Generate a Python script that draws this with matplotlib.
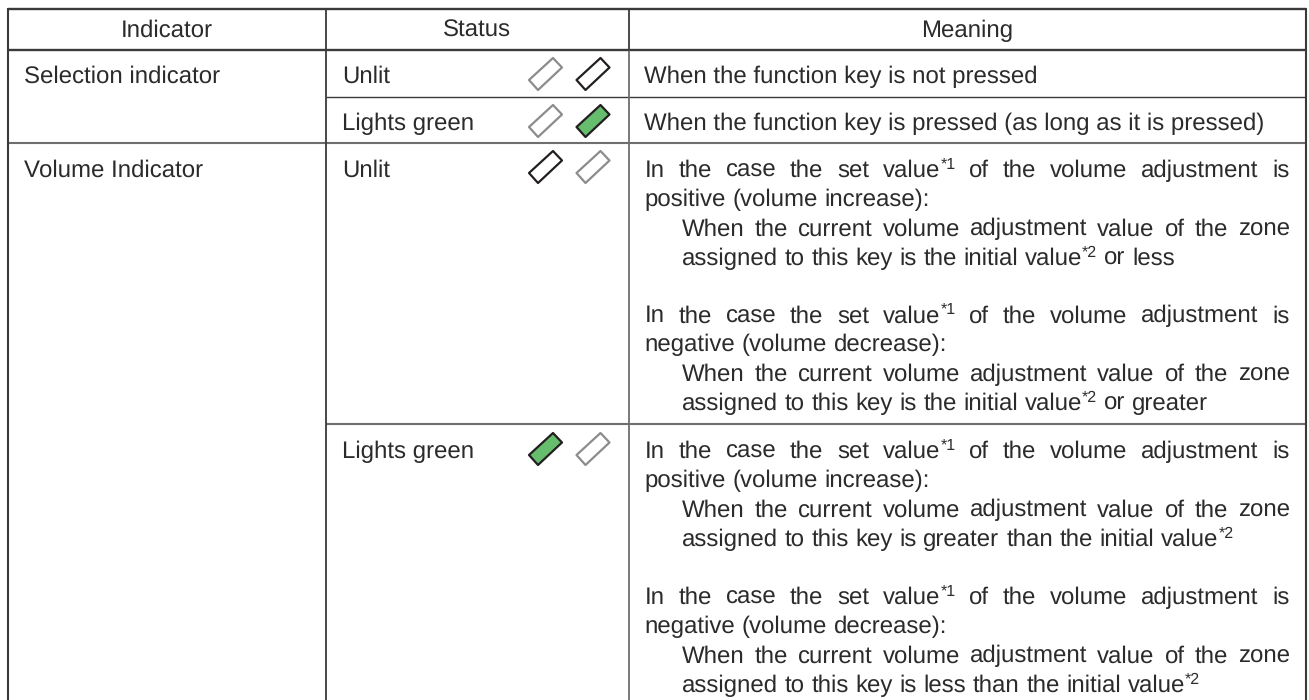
import re
import matplotlib as mpl
mpl.use("Agg")
import matplotlib.pyplot as plt
from matplotlib.patches import Polygon

plt.rcParams['font.family'] = ['Liberation Sans', 'DejaVu Sans']
plt.rcParams['text.hinting'] = 'none'
plt.rcParams['text.hinting_factor'] = 1

# table text
headers = ["Indicator", "Status", "Meaning"]
indicators = ["Selection indicator", "Volume Indicator"]
statuses = ["Unlit", "Lights green", "Unlit", "Lights green"]
simple_meanings = ["When the function key is not pressed",
                   "When the function key is pressed (as long as it is pressed)"]

# (text, indented, justified, baseline)
def block(sign, change, tail, start):
    return [
        ("In the case the set value*1 of the volume adjustment is", False, True, start),
        (f"{sign} (volume {change}):", False, False, start + 29),
        ("When the current volume adjustment value of the zone", True, True, start + 58.3),
        (tail, True, False, start + 87.6),
    ]

meaning_lines = (
    block("positive", "increase", "assigned to this key is the initial value*2 or less", 177)
    + block("negative", "decrease", "assigned to this key is the initial value*2 or greater", 322.5)
    + block("positive", "increase", "assigned to this key is greater than the initial value*2", 458)
    + block("negative", "decrease", "assigned to this key is less than the initial value*2", 604)
)

# table layout, pixels
col_edges = [8, 326, 628.5, 1306]
row_edges = [9, 50, 96.5, 143, 424, 705]
fs = 17.5
sup_fs = 11.5
txt_col = "#2b2b2b"
dark = "#3a3a3a"
mid = "#6e6e6e"

# indicator pairs: x centre, y centre, face, edge
left_x, right_x = 545.5, 593
lamps = [
    (left_x, 74, "none", "#8c8c8c"), (right_x, 74, "none", "#231f20"),
    (left_x, 121, "none", "#8c8c8c"), (right_x, 121, "#66bd6e", "#231f20"),
    (left_x, 167, "none", "#231f20"), (right_x, 167, "none", "#8c8c8c"),
    (left_x, 449, "#66bd6e", "#231f20"), (right_x, 449, "none", "#8c8c8c"),
]
lamp_shape = [(7.5, -16), (16.5, -6.5), (-7.5, 16), (-16.5, 6)]

fig = plt.figure(figsize=(13.09, 7), dpi=100)
ax = fig.add_axes([0, 0, 1, 1])
ax.set_xlim(0, 1309)
ax.set_ylim(700, 0)
ax.axis("off")
renderer = fig.canvas.get_renderer()


def text_w(s, size):
    t = ax.text(0, 0, s, fontsize=size)
    w = t.get_window_extent(renderer).width
    t.remove()
    return w


def hline(y, x0, x1, color=dark, lw=1.2):
    ax.plot([x0, x1], [y, y], color=color, lw=lw, solid_capstyle="butt")


def vline(x, y0, y1, color=dark, lw=1.2):
    ax.plot([x, x], [y0, y1], color=color, lw=lw, solid_capstyle="projecting")


def draw_line(s, x, y, right=None):
    # split words, superscripts get drawn smaller and raised
    words = s.split(" ")
    space = text_w("a a", fs) - text_w("aa", fs)
    pieces = []
    for w in words:
        m = re.match(r"(.*?)(\*\d)(.*)$", w)
        if m:
            pieces.append([(m.group(1), False), (m.group(2), True)])
        else:
            pieces.append([(w, False)])
    widths = [sum(text_w(p, sup_fs if sup else fs) for p, sup in pc) for pc in pieces]
    if right is not None:
        space = (right - x - sum(widths)) / (len(words) - 1)
    cx = x
    for pc, w in zip(pieces, widths):
        px = cx
        for p, sup in pc:
            ax.text(px, y - 8 if sup else y, p, fontsize=sup_fs if sup else fs,
                    color=txt_col, va="baseline", ha="left")
            px += text_w(p, sup_fs if sup else fs)
        cx += w + space


# grid
hline(row_edges[0], col_edges[0], col_edges[3], lw=1.7)
hline(row_edges[1], col_edges[0], col_edges[3], lw=1.7)
hline(row_edges[2], col_edges[1], col_edges[3], lw=1.0)
hline(row_edges[3], col_edges[0], col_edges[3], color=mid, lw=1.5)
hline(row_edges[4], col_edges[1], col_edges[3], color=mid, lw=1.5)
vline(col_edges[0], row_edges[0], row_edges[5], lw=1.5)
vline(col_edges[1], row_edges[0], row_edges[5], lw=1.3)
vline(col_edges[2], row_edges[1], row_edges[5], color=mid, lw=1.3)
vline(col_edges[2], row_edges[0], row_edges[1], lw=1.3)
vline(col_edges[3], row_edges[0], row_edges[5], lw=1.5)

# header
for i, h in enumerate(headers):
    ax.text((col_edges[i] + col_edges[i + 1]) / 2, 37, h, fontsize=fs, color=txt_col,
            ha="center", va="baseline")

# left columns
for label, y in zip(indicators, [83, 177]):
    ax.text(24, y, label, fontsize=fs, color=txt_col, va="baseline")
for label, y in zip(statuses, [83, 130, 177, 458]):
    ax.text(342, y, label, fontsize=fs, color=txt_col, va="baseline")

# lamps
for cx, cy, face, edge in lamps:
    pts = [(cx + dx, cy + dy) for dx, dy in lamp_shape]
    ax.add_patch(Polygon(pts, closed=True, facecolor=face, edgecolor=edge, lw=1.6, joinstyle="round"))

# meaning column
for label, y in zip(simple_meanings, [83, 130]):
    ax.text(644.5, y, label, fontsize=fs, color=txt_col, va="baseline")
for s, indented, justified, y in meaning_lines:
    draw_line(s, 682 if indented else 644.5, y, right=1290 if justified else None)

fig.savefig("out.png", dpi=100)
